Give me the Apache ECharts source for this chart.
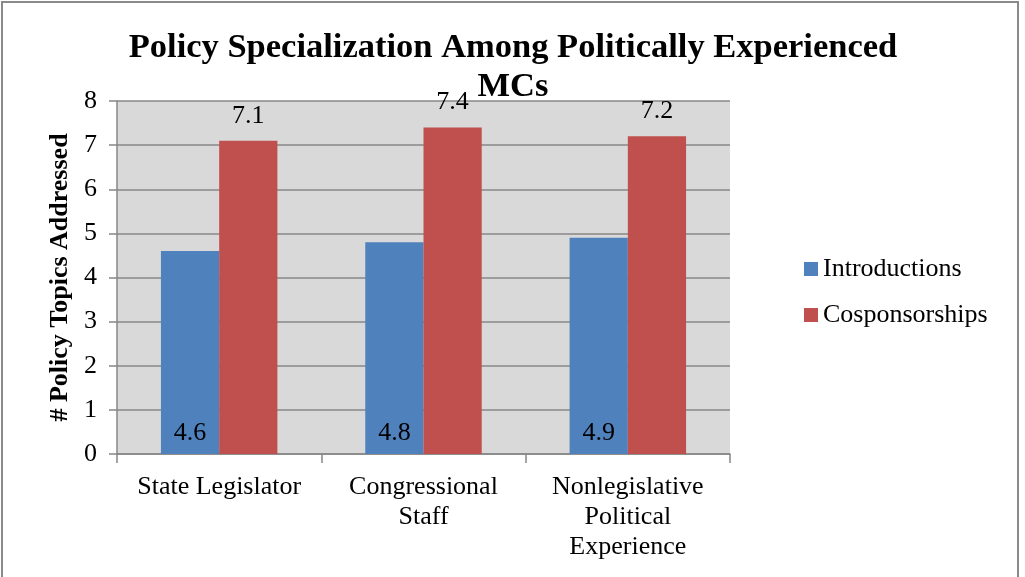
<!DOCTYPE html>
<html>
<head>
<meta charset="utf-8">
<script src="https://cdn.jsdelivr.net/npm/echarts@6/dist/echarts.min.js"></script>
<style>
  html, body { margin: 0; padding: 0; background: #ffffff; }
  #chart { width: 1025px; height: 577px; }
</style>
</head>
<body>
<div id="chart"></div>
<script>
// Experience groups on the x axis (line breaks give the wrapped tick labels)
const categories = ['State Legislator', 'Congressional\nStaff', 'Nonlegislative\nPolitical\nExperience'];
// Mean number of policy topics addressed
const introductions = [4.6, 4.8, 4.9];
const cosponsorships = [7.1, 7.4, 7.2];
const yTicks = { min: 0, max: 8, step: 1 };

const serif = 'Liberation Serif';
const gridGray = '#878787';

const chart = echarts.init(document.getElementById('chart'), null, { renderer: 'canvas' });

chart.setOption({
  backgroundColor: '#ffffff',
  animation: false,
  textStyle: { fontFamily: serif },
  graphic: [{
    type: 'rect',
    shape: { x: 2, y: 2, width: 1016, height: 600 },
    style: { fill: 'none', stroke: '#8a8a8a', lineWidth: 2 },
    silent: true
  }],
  title: {
    text: 'Policy Specialization Among Politically Experienced\nMCs',
    left: 508,
    textAlign: 'center',
    top: 24,
    textStyle: {
      fontFamily: serif,
      fontWeight: 'bold',
      fontSize: 34.5,
      lineHeight: 39,
      color: '#000000'
    }
  },
  legend: {
    orient: 'vertical',
    left: 799,
    top: 251,
    itemWidth: 14,
    itemHeight: 14,
    itemGap: 20,
    icon: 'rect',
    textStyle: { fontFamily: serif, fontSize: 26, lineHeight: 26, color: '#000000' },
    data: ['Introductions', 'Cosponsorships']
  },
  grid: {
    left: 117,
    right: 295,
    top: 101,
    bottom: 123,
    show: true,
    backgroundColor: '#D9D9D9',
    borderWidth: 0
  },
  xAxis: {
    type: 'category',
    data: categories,
    axisLine: { show: true, lineStyle: { color: gridGray, width: 1.5 } },
    axisTick: { show: true, length: 9, lineStyle: { color: gridGray, width: 1.5 } },
    axisLabel: {
      fontFamily: serif,
      fontSize: 26,
      lineHeight: 30,
      color: '#000000',
      margin: 18,
      interval: 0
    }
  },
  yAxis: {
    type: 'value',
    min: yTicks.min,
    max: yTicks.max,
    interval: yTicks.step,
    name: '# Policy Topics Addressed',
    nameLocation: 'middle',
    nameGap: 44,
    nameTextStyle: { fontFamily: serif, fontWeight: 'bold', fontSize: 26, color: '#000000' },
    axisLine: { show: true, lineStyle: { color: gridGray, width: 1.5 } },
    axisTick: { show: true, length: 8, lineStyle: { color: gridGray, width: 1.5 } },
    axisLabel: { fontFamily: serif, fontSize: 26, color: '#000000', margin: 20 },
    splitLine: { show: true, lineStyle: { color: gridGray, width: 1.5 } }
  },
  series: [
    {
      name: 'Introductions',
      type: 'bar',
      data: introductions,
      barGap: '0%',
      barCategoryGap: '43%',
      itemStyle: { color: '#4F81BD' },
      label: {
        show: true,
        position: 'insideBottom',
        distance: 8,
        fontFamily: serif,
        fontSize: 26,
        color: '#000000'
      }
    },
    {
      name: 'Cosponsorships',
      type: 'bar',
      data: cosponsorships,
      barGap: '0%',
      barCategoryGap: '43%',
      itemStyle: { color: '#C0504D' },
      label: {
        show: true,
        position: 'top',
        distance: 12,
        fontFamily: serif,
        fontSize: 26,
        color: '#000000'
      }
    }
  ]
});
</script>
</body>
</html>
